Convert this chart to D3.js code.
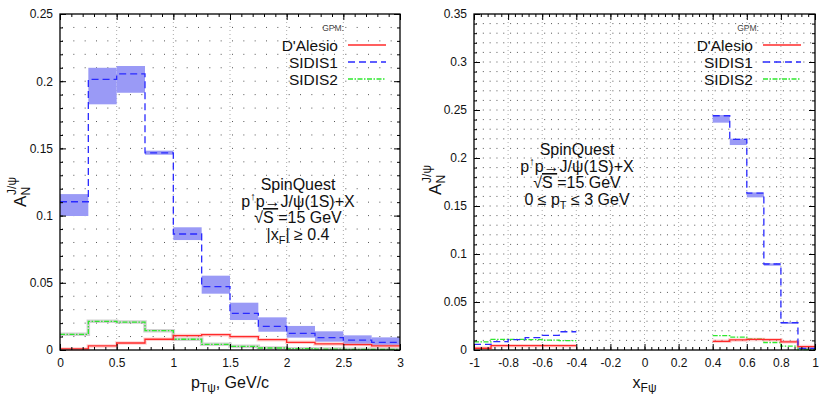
<!DOCTYPE html>
<html>
<head>
<meta charset="utf-8">
<script src="https://cdn.jsdelivr.net/npm/d3@7"></script>
<style>
  body { margin: 0; background: #fff; }
  svg { font-family: "Liberation Sans", Arial, sans-serif; }
</style>
</head>
<body>
<div id="chart"></div>
<script>
// ---- left panel: A_N vs pT (bins of 0.25 GeV) ----
const ptEdges = [0, 0.25, 0.5, 0.75, 1, 1.25, 1.5, 1.75, 2, 2.25, 2.5, 2.75, 3];
const ptSidis1 = [0.1103, 0.2014, 0.2054, 0.1466, 0.0863, 0.0471, 0.0273, 0.0176, 0.0124, 0.0092, 0.0074, 0.0057];
const ptSidis1Hi = [0.116, 0.210, 0.2113, 0.1483, 0.0913, 0.0553, 0.0352, 0.0243, 0.0179, 0.0139, 0.0109, 0.0094];
const ptSidis1Lo = [0.0997, 0.1828, 0.1914, 0.1453, 0.0818, 0.0419, 0.0223, 0.0136, 0.0092, 0.0062, 0.0045, 0.0035];
const ptDalesio = [0.0008, 0.003, 0.0052, 0.008, 0.0107, 0.0114, 0.0099, 0.0077, 0.0057, 0.0045, 0.004, 0.003];
const ptSidis2 = [0.0117, 0.0213, 0.0208, 0.0144, 0.008, 0.0042, 0.0027, 0.0015, 0.001, 0.0007, 0.0005, 0.0005];

const ptXTicks = [0, 0.5, 1, 1.5, 2, 2.5, 3];
const ptYTicks = [0, 0.05, 0.1, 0.15, 0.2, 0.25];

// ---- right panel: A_N vs xF (bins of 0.1) ----
const xfEdgesNeg = [-1, -0.9, -0.8, -0.7, -0.6, -0.5, -0.4];
const xfEdgesPos = [0.4, 0.5, 0.6, 0.7, 0.8, 0.9, 1];
const xfSidis1Neg = [0.0059, 0.0087, 0.0108, 0.0128, 0.0153, 0.019];
const xfSidis1Pos = [0.244, 0.2194, 0.1635, 0.0896, 0.0285, 0.0017];
const xfSidis1PosHi = [0.2448, 0.2201, 0.1642, 0.0903, 0.0292, 0.0025];
const xfSidis1PosLo = [0.2368, 0.2135, 0.159, 0.0878, 0.0271, 0.0008];
const xfDalesioNeg = [0.0018, 0.0045, 0.0045, 0.0045, 0.0045, 0.0045];
const xfDalesioPos = [0.009, 0.0105, 0.011, 0.0108, 0.0085, 0.0036];
const xfSidis2Neg = [0.0085, 0.011, 0.011, 0.0108, 0.0102, 0.0098];
const xfSidis2Pos = [0.0149, 0.0134, 0.0115, 0.0078, 0.004, 0.0005];

const xfXTicks = [-1, -0.8, -0.6, -0.4, -0.2, 0, 0.2, 0.4, 0.6, 0.8, 1];
const xfYTicks = [0, 0.05, 0.1, 0.15, 0.2, 0.25, 0.3, 0.35];

const legendNames = ["D'Alesio", "SIDIS1", "SIDIS2"];

const colRed = '#ff2a2a';
const colBlue = '#2a2aff';
const colGreen = '#2ee82e';
const colBand = '#9a9af6';

const width = 819, height = 394;
const svg = d3.select('#chart').append('svg')
  .attr('width', width).attr('height', height);

const fmt = (d) => String(+d.toFixed(2));

function drawPanel(o) {
  const x = d3.scaleLinear().domain(o.xDomain).range([o.x0, o.x1]);
  const y = d3.scaleLinear().domain(o.yDomain).range([o.y1, o.y0]);
  const g = svg.append('g');

  // grid: dotted rows at every minor y, dotted columns at major x
  const yMinor = d3.range(o.yDomain[0], o.yDomain[1] + 1e-9, o.yMinor).slice(1, -1);
  const dx = x(o.xDomain[0] + o.xMinor) - x(o.xDomain[0]);
  g.append('g').selectAll('line').data(yMinor).join('line')
    .attr('x1', o.x0).attr('x2', o.x1)
    .attr('y1', (d) => y(d)).attr('y2', (d) => y(d))
    .attr('stroke', '#555').attr('stroke-width', 1)
    .attr('stroke-dasharray', '1,' + (dx - 1))
    .attr('stroke-dashoffset', -2);
  g.append('g').selectAll('line').data(o.xTicks.slice(1, -1)).join('line')
    .attr('x1', (d) => x(d)).attr('x2', (d) => x(d))
    .attr('y1', o.y0).attr('y2', o.y1)
    .attr('stroke', '#aaa').attr('stroke-width', 1)
    .attr('stroke-dasharray', '1,3');

  // bands
  o.bands.forEach((b) => {
    g.append('g').selectAll('rect').data(b.hi).join('rect')
      .attr('x', (d, i) => x(b.edges[i]))
      .attr('width', (d, i) => x(b.edges[i + 1]) - x(b.edges[i]))
      .attr('y', (d) => y(d))
      .attr('height', (d, i) => Math.max(0.5, y(b.lo[i]) - y(d)))
      .attr('fill', colBand);
  });

  // step lines
  const line = d3.line().curve(d3.curveStepAfter)
    .x((d) => x(d[0])).y((d) => y(d[1]));
  o.series.forEach((s) => {
    const pts = s.values.map((v, i) => [s.edges[i], v]);
    pts.push([s.edges[s.edges.length - 1], s.values[s.values.length - 1]]);
    if (s.halo) {
      g.append('path').attr('d', line(pts)).attr('fill', 'none')
        .attr('stroke', s.halo).attr('stroke-width', 3.5);
    }
    g.append('path').attr('d', line(pts)).attr('fill', 'none')
      .attr('stroke', s.color).attr('stroke-width', s.width || 1.3)
      .attr('stroke-dasharray', s.dash || null);
  });

  // axes: ticks point inward on all four sides
  const tickStyle = (sel) => {
    sel.select('.domain').remove();
    sel.selectAll('line').attr('stroke', '#000');
    sel.selectAll('text').attr('font-size', '12px').attr('fill', '#111')
      .attr('font-family', '"Liberation Sans", Arial, sans-serif');
  };
  const xMinorVals = d3.range(o.xDomain[0], o.xDomain[1] + 1e-9, o.xMinor);
  const yMinorVals = d3.range(o.yDomain[0], o.yDomain[1] + 1e-9, o.yMinor);

  g.append('g').attr('transform', `translate(0,${o.y1})`)
    .call(d3.axisBottom(x).tickValues(o.xTicks).tickFormat(fmt).tickSize(-6).tickPadding(8)).call(tickStyle);
  g.append('g').attr('transform', `translate(0,${o.y1})`)
    .call(d3.axisBottom(x).tickValues(xMinorVals).tickFormat('').tickSize(-3)).call(tickStyle);
  g.append('g').attr('transform', `translate(0,${o.y0})`)
    .call(d3.axisTop(x).tickValues(o.xTicks).tickFormat('').tickSize(-6)).call(tickStyle);
  g.append('g').attr('transform', `translate(0,${o.y0})`)
    .call(d3.axisTop(x).tickValues(xMinorVals).tickFormat('').tickSize(-3)).call(tickStyle);
  g.append('g').attr('transform', `translate(${o.x0},0)`)
    .call(d3.axisLeft(y).tickValues(o.yTicks).tickFormat(fmt).tickSize(-6).tickPadding(7)).call(tickStyle);
  g.append('g').attr('transform', `translate(${o.x0},0)`)
    .call(d3.axisLeft(y).tickValues(yMinorVals).tickFormat('').tickSize(-3)).call(tickStyle);
  g.append('g').attr('transform', `translate(${o.x1},0)`)
    .call(d3.axisRight(y).tickValues(o.yTicks).tickFormat('').tickSize(-6)).call(tickStyle);
  g.append('g').attr('transform', `translate(${o.x1},0)`)
    .call(d3.axisRight(y).tickValues(yMinorVals).tickFormat('').tickSize(-3)).call(tickStyle);

  g.append('rect').attr('x', o.x0).attr('y', o.y0)
    .attr('width', o.x1 - o.x0).attr('height', o.y1 - o.y0)
    .attr('fill', 'none').attr('stroke', '#000').attr('stroke-width', 1.3);

  // legend
  const lg = g.append('g');
  lg.append('text').attr('x', o.legX - 5).attr('y', 31).attr('text-anchor', 'middle')
    .attr('font-size', '8.5px').attr('fill', '#444').text('GPM:');
  const legStyles = [
    { color: colRed, dash: null },
    { color: colBlue, dash: '7,4' },
    { color: colGreen, dash: '5,1.5,1.5,1.5' },
  ];
  legendNames.forEach((n, i) => {
    const yy = 45 + i * 17;
    lg.append('text').attr('x', o.legX).attr('y', yy + 5.5).attr('text-anchor', 'end')
      .attr('font-size', '15.5px').attr('fill', '#111').text(n);
    lg.append('line').attr('x1', o.legX + 10).attr('x2', o.legX + 48)
      .attr('y1', yy).attr('y2', yy)
      .attr('stroke', legStyles[i].color).attr('stroke-width', 1.3)
      .attr('stroke-dasharray', legStyles[i].dash);
  });

  // annotation
  const ann = g.append('text').attr('text-anchor', 'middle').attr('font-size', '16px').attr('fill', '#111');
  ann.append('tspan').attr('x', o.annX).attr('y', o.annY).text('SpinQuest');
  const l2 = ann.append('tspan').attr('x', o.annX).attr('y', o.annY + 16.5);
  l2.append('tspan').text('p');
  l2.append('tspan').attr('font-size', '11px').attr('dy', -7).text('↑');
  l2.append('tspan').attr('dy', 7).text('p→J/ψ(1S)+X');
  const l3 = ann.append('tspan').attr('x', o.annX).attr('y', o.annY + 33);
  l3.append('tspan').text('√');
  l3.append('tspan').attr('text-decoration', 'overline').text('S ');
  l3.append('tspan').text(' =15 GeV');
  const l4 = ann.append('tspan').attr('x', o.annX).attr('y', o.annY + 50);
  o.lastLine(l4);

  // axis titles
  const xt = g.append('text').attr('x', (o.x0 + o.x1) / 2).attr('y', 388)
    .attr('text-anchor', 'middle').attr('font-size', '16px').attr('fill', '#111');
  o.xTitle(xt);
  const yt = g.append('text')
    .attr('transform', `translate(${o.yTitleX},${o.yTitleY}) rotate(-90)`)
    .attr('text-anchor', 'middle').attr('font-size', '17px').attr('fill', '#111');
  yt.append('tspan').text('A');
  yt.append('tspan').attr('font-size', '12px').attr('dy', 4).text('N');
  yt.append('tspan').attr('font-size', '12px').attr('dx', -8).attr('dy', -14).text('J/ψ');
}

drawPanel({
  x0: 60, x1: 400, y0: 14, y1: 350,
  xDomain: [0, 3], yDomain: [0, 0.25],
  xTicks: ptXTicks, yTicks: ptYTicks, xMinor: 0.1, yMinor: 0.01,
  bands: [{ edges: ptEdges, hi: ptSidis1Hi, lo: ptSidis1Lo }],
  series: [
    { edges: ptEdges, values: ptSidis2, color: colGreen, dash: '5,1.5,1.5,1.5', halo: 'rgba(150,150,150,0.45)' },
    { edges: ptEdges, values: ptDalesio, color: colRed, halo: 'rgba(255,150,150,0.45)' },
    { edges: ptEdges, values: ptSidis1, color: colBlue, dash: '7,4' },
  ],
  legX: 338,
  annX: 298, annY: 190,
  lastLine: (t) => {
    t.append('tspan').text('|x');
    t.append('tspan').attr('font-size', '11px').attr('dy', 4).text('F');
    t.append('tspan').attr('dy', -4).text('| ≥ 0.4');
  },
  xTitle: (t) => {
    t.append('tspan').text('p');
    t.append('tspan').attr('font-size', '12px').attr('dy', 4).text('Tψ');
    t.append('tspan').attr('dy', -4).text(', GeV/c');
  },
  yTitleX: 26, yTitleY: 192,
});

drawPanel({
  x0: 474, x1: 815, y0: 14, y1: 350,
  xDomain: [-1, 1], yDomain: [0, 0.35],
  xTicks: xfXTicks, yTicks: xfYTicks, xMinor: 0.04, yMinor: 0.01,
  bands: [{ edges: xfEdgesPos, hi: xfSidis1PosHi, lo: xfSidis1PosLo }],
  series: [
    { edges: xfEdgesNeg, values: xfSidis2Neg, color: colGreen, dash: '5,1.5,1.5,1.5' },
    { edges: xfEdgesPos, values: xfSidis2Pos, color: colGreen, dash: '5,1.5,1.5,1.5' },
    { edges: xfEdgesNeg, values: xfDalesioNeg, color: colRed, halo: 'rgba(255,150,150,0.45)' },
    { edges: xfEdgesPos, values: xfDalesioPos, color: colRed, halo: 'rgba(255,150,150,0.45)' },
    { edges: xfEdgesNeg, values: xfSidis1Neg, color: colBlue, dash: '7,4' },
    { edges: xfEdgesPos, values: xfSidis1Pos, color: colBlue, dash: '7,4' },
  ],
  legX: 753,
  annX: 577, annY: 155,
  lastLine: (t) => {
    t.append('tspan').text('0 ≤ p');
    t.append('tspan').attr('font-size', '11px').attr('dy', 4).text('T');
    t.append('tspan').attr('dy', -4).text(' ≤ 3 GeV');
  },
  xTitle: (t) => {
    t.append('tspan').text('x');
    t.append('tspan').attr('font-size', '12px').attr('dy', 4).text('Fψ');
  },
  yTitleX: 441, yTitleY: 180,
});
</script>
</body>
</html>
